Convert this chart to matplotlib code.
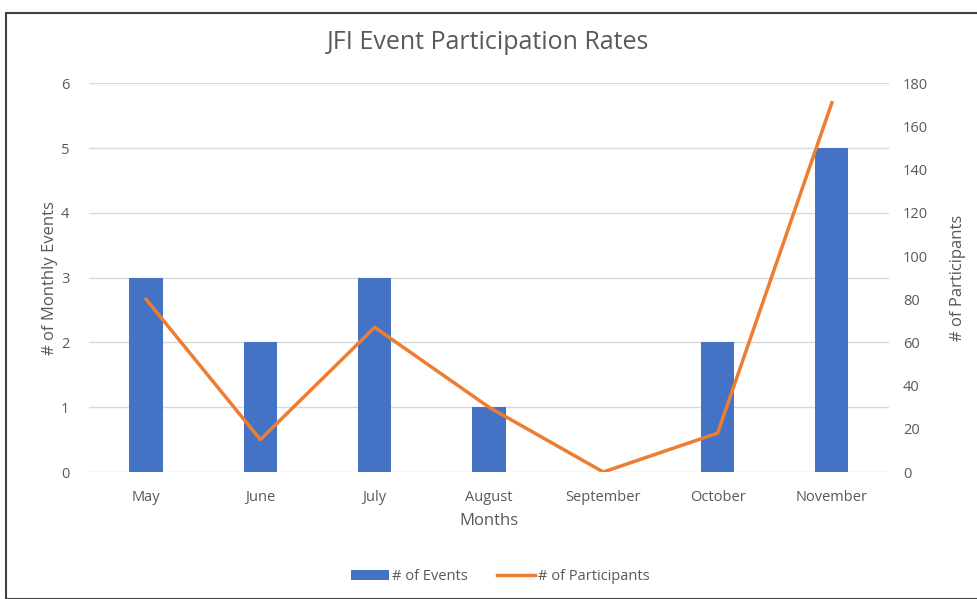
import matplotlib.pyplot as plt
from matplotlib.patches import Rectangle
import numpy as np

plt.rcParams['font.family'] = ['Open Sans', 'DejaVu Sans']

months = ['May', 'June', 'July', 'August', 'September', 'October', 'November']
events = [3, 2, 3, 1, 0, 2, 5]
participants = [80, 15, 67, 30, 0, 18, 171]

txt = '#595959'
grid = '#d9d9d9'

fig = plt.figure(figsize=(9.77, 5.99), dpi=100)
ax = fig.add_axes([0.091, 0.212, 0.819, 0.649])
x = np.arange(len(months))

b = ax.bar(x, events, width=0.29, color='#4472c4', label='# of Events', zorder=2)
ax.set_ylim(0, 6)
ax.set_yticks(range(0, 7))
ax.set_xlim(-0.5, len(months) - 0.5)
ax.set_xticks(x)
ax.set_xticklabels(months)
ax.yaxis.grid(True, color=grid, lw=1, zorder=0)
ax.set_axisbelow(True)
for s in ax.spines.values():
    s.set_visible(False)
ax.tick_params(length=0, colors=txt, labelsize=10.5)
ax.tick_params(axis='y', pad=14)
ax.tick_params(axis='x', pad=13)
ax.set_ylabel('# of Monthly Events', color=txt, fontsize=12, labelpad=2)
ax.set_xlabel('Months', color=txt, fontsize=12, labelpad=6)

ax2 = ax.twinx()
l, = ax2.plot(x, participants, color='#ed7d31', lw=2.5, label='# of Participants', zorder=3)
ax2.set_ylim(0, 180)
ax2.set_yticks(range(0, 181, 20))
for s in ax2.spines.values():
    s.set_visible(False)
ax2.tick_params(length=0, colors=txt, labelsize=10.5, pad=10)
ax2.set_ylabel('# of Participants', color=txt, fontsize=12, labelpad=16)

fig.suptitle('JFI Event Participation Rates', color=txt, fontsize=18, y=0.95)

fig.legend([b, l], ['# of Events', '# of Participants'], loc='center',
           bbox_to_anchor=(0.512, 0.038), ncol=2, frameon=False, fontsize=10.5,
           labelcolor=txt, handlelength=2.6, handletextpad=0.2, columnspacing=2.0)

fig.add_artist(Rectangle((0.006, 0.0), 1.1, 0.978, transform=fig.transFigure,
                         fill=False, edgecolor='#404040', lw=1.5))

fig.savefig('out.png', dpi=100)
